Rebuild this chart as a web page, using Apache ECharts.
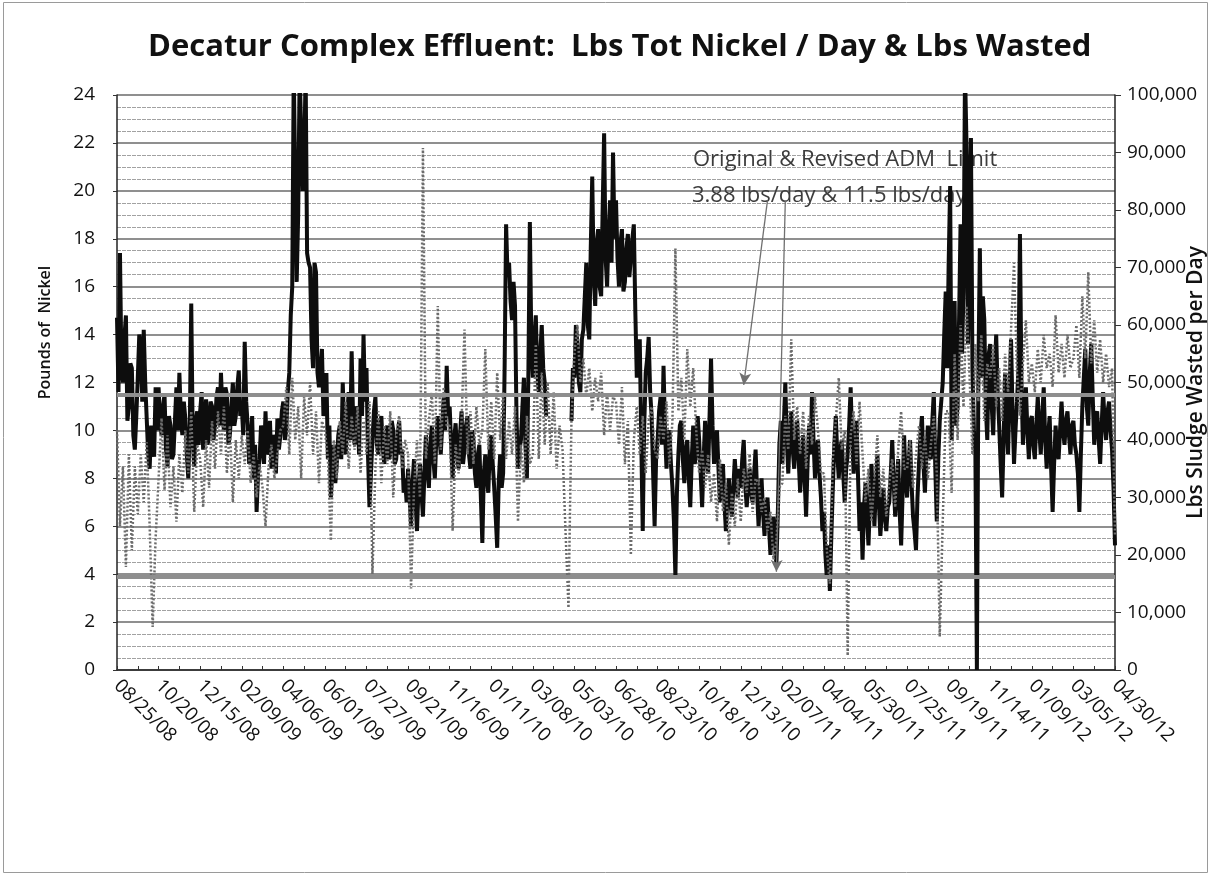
<!DOCTYPE html>
<html>
<head>
<meta charset="utf-8">
<script src="https://cdn.jsdelivr.net/npm/echarts@6/dist/echarts.min.js"></script>
<style>
  html, body { margin: 0; padding: 0; background: #ffffff; }
  #chart { width: 1212px; height: 876px; }
</style>
</head>
<body>
<div id="chart"></div>
<script>
// Nickel is read every 2 days, sludge wasted every 4 days, from 08/25/08
const START_UTC = Date.UTC(2008, 7, 25);
const STEP_DAYS = 2;
const WASTED_STRIDE = 2;  // wasted readings sit on every 2nd category
const LABEL_EVERY = 28;   // 56 days between date labels
const TICK_EVERY = 14;    // 28 days between tick marks

const tickLabels = [
  '08/25/08', '10/20/08', '12/15/08', '02/09/09', '04/06/09', '06/01/09', '07/27/09',
  '09/21/09', '11/16/09', '01/11/10', '03/08/10', '05/03/10', '06/28/10', '08/23/10',
  '10/18/10', '12/13/10', '02/07/11', '04/04/11', '05/30/11', '07/25/11', '09/19/11',
  '11/14/11', '01/09/12', '03/05/12', '04/30/12'
];

// Lbs total nickel per day (left axis), one row per 56-day block
const nickelLbs = [
  14.7, 11.6, 17.4, 12.6, 12.0, 13.9, 14.8, 10.4, 11.0, 12.8, 12.6, 9.8, 9.2, 10.6, 12.2, 14.0, 13.5, 11.2, 14.2, 12.0, 10.5, 9.0, 8.4, 10.2, 9.6, 8.9, 11.8, 10.0,
  11.8, 10.4, 9.8, 11.0, 11.5, 9.2, 8.5, 10.6, 10.2, 8.8, 9.0, 10.4, 11.8, 10.0, 12.4, 10.6, 9.8, 11.2, 10.5, 9.0, 8.0, 10.2, 15.3, 9.6, 8.5, 10.4, 10.8, 9.4,
  10.8, 11.6, 9.2, 10.4, 11.3, 9.4, 9.8, 11.2, 11.0, 9.6, 10.2, 11.4, 11.8, 10.2, 12.4, 10.8, 10.0, 11.8, 11.5, 9.4, 9.8, 11.0, 12.0, 10.2, 10.6, 11.8, 12.5, 10.6,
  11.0, 9.8, 13.7, 11.2, 10.2, 8.6, 9.4, 10.6, 8.0, 9.4, 6.6, 8.2, 8.8, 10.2, 9.8, 8.6, 10.8, 9.0, 9.2, 10.4, 8.4, 9.8, 9.6, 8.2, 10.5, 9.2, 9.8, 10.8,
  11.2, 9.6, 10.0, 11.6, 12.4, 14.8, 16.0, 25.0, 25.0, 16.2, 19.0, 25.0, 25.0, 20.0, 21.0, 25.0, 17.4, 17.0, 16.8, 13.8, 12.6, 17.0, 16.6, 12.4, 11.8, 12.6, 13.4, 10.6,
  10.6, 12.4, 8.8, 10.2, 7.2, 8.4, 9.4, 7.8, 8.6, 9.8, 10.2, 8.8, 12.0, 10.0, 9.0, 10.6, 11.6, 9.6, 13.3, 10.4, 9.4, 11.0, 10.8, 9.0, 13.0, 10.6, 14.0, 11.2,
  12.6, 9.0, 6.8, 8.2, 9.6, 10.8, 11.4, 9.4, 9.0, 10.2, 10.6, 9.2, 8.6, 9.8, 10.2, 8.8, 9.0, 10.4, 10.0, 8.6, 8.8, 9.8, 10.4, 9.0, 9.2, 7.4, 8.0, 7.0,
  8.4, 7.2, 6.0, 7.8, 8.8, 7.0, 5.8, 7.6, 8.6, 7.4, 6.4, 8.2, 9.8, 8.4, 7.6, 9.4, 10.2, 8.8, 8.0, 9.6, 10.6, 9.8, 9.0, 10.2, 11.4, 10.0, 12.7, 10.6,
  11.0, 9.4, 8.0, 9.6, 10.3, 9.0, 8.4, 9.8, 10.8, 8.6, 9.2, 10.2, 10.6, 9.0, 8.4, 10.0, 9.6, 8.2, 7.6, 9.0, 9.4, 7.2, 5.3, 8.2, 9.0, 8.0, 7.4, 9.2,
  9.8, 8.6, 7.6, 6.4, 5.1, 7.8, 9.0, 7.6, 8.2, 12.6, 18.6, 16.4, 17.0, 15.4, 14.6, 16.2, 15.2, 10.6, 8.4, 9.2, 9.6, 11.0, 12.2, 9.4, 8.0, 12.4, 18.7, 13.6,
  12.2, 13.8, 14.8, 12.4, 11.6, 13.2, 14.4, 12.6, 12.0, 10.6, null, null, null, null, null, null, null, null, null, null, null, null, null, null, null, null, 10.4, 12.6,
  12.2, 14.4, 13.6, 12.0, 11.6, 13.8, 14.2, 15.6, 17.0, 14.4, 13.8, 17.6, 20.6, 16.4, 15.2, 17.8, 18.4, 16.0, 15.6, 19.2, 22.4, 17.2, 16.0, 18.2, 19.6, 17.0, 21.6, 18.0,
  19.6, 17.2, 16.0, 17.8, 18.4, 15.8, 16.2, 17.6, 18.2, 16.4, 17.2, 18.0, 18.6, 15.0, 12.2, 13.2, 13.8, 9.6, 5.8, 10.2, 12.4, 13.0, 13.9, 11.6, 10.6, 8.2, 6.0, 8.8,
  9.6, 10.8, 11.4, 9.4, 12.7, 10.0, 8.4, 9.6, 10.0, 8.6, 7.6, 6.2, 3.9, 7.4, 9.0, 10.2, 10.4, 8.8, 7.8, 9.2, 9.6, 8.0, 6.8, 8.8, 10.2, 8.6, 9.0, 10.6,
  9.6, 8.2, 6.8, 8.8, 10.4, 9.0, 8.2, 10.6, 13.0, 10.2, 8.6, 9.4, 10.0, 8.4, 7.0, 8.2, 8.6, 7.0, 5.8, 7.2, 8.0, 7.0, 6.4, 7.6, 8.8, 7.8, 7.2, 8.4,
  7.6, 8.8, 9.6, 7.8, 6.8, 7.6, 8.4, 7.4, 7.0, 8.2, 9.2, 7.4, 6.0, 7.2, 8.0, 6.6, 5.6, 6.8, 7.2, 6.0, 4.8, 5.8, 6.4, 5.4, 4.4, 6.6, 9.4, 10.4,
  8.6, 10.2, 12.0, 9.6, 8.2, 9.8, 10.8, 9.2, 8.4, 9.6, 10.4, 8.8, 7.4, 8.6, 9.8, 8.0, 6.4, 8.6, 10.2, 9.0, 11.6, 9.6, 8.0, 9.0, 9.6, 8.2, 7.2, 5.8,
  6.6, 4.8, 3.8, 5.2, 3.3, 5.6, 7.6, 9.4, 10.6, 9.0, 8.0, 9.2, 9.6, 8.2, 7.0, 8.4, 9.0, 10.2, 11.8, 9.6, 8.2, 9.4, 10.4, 8.0, 5.8, 7.0, 4.6, 6.8,
  7.8, 6.4, 5.2, 7.0, 8.6, 7.2, 6.0, 7.6, 9.0, 7.0, 5.6, 6.6, 7.6, 6.4, 5.8, 6.8, 7.0, 8.2, 9.6, 7.8, 6.4, 7.6, 8.8, 6.6, 5.2, 7.4, 9.8, 8.0,
  7.2, 8.6, 9.6, 7.8, 6.4, 5.8, 5.0, 7.2, 8.6, 9.8, 10.6, 8.6, 7.4, 9.0, 10.2, 9.0, 8.8, 10.4, 11.6, 8.4, 6.2, 8.8, 10.4, 11.2, 12.0, 14.0, 15.8, 12.6,
  17.0, 20.2, 9.6, 12.4, 15.4, 10.2, 11.0, 14.6, 18.6, 13.2, 15.8, 25.0, 22.0, 13.6, 18.8, 22.2, 12.6, 10.0, 9.0, 0, 12.4, 17.6, 12.2, 15.6, 14.6, 11.0, 9.6, 13.2,
  13.6, 11.0, 9.8, 12.4, 14.0, 11.6, 10.2, 8.6, 7.2, 9.6, 12.4, 10.4, 9.0, 11.6, 13.8, 10.8, 8.6, 10.0, 11.2, 12.6, 18.2, 12.0, 9.4, 10.6, 11.8, 10.0, 8.8, 10.4,
  10.6, 9.4, 8.8, 10.2, 11.4, 10.0, 9.0, 10.6, 11.8, 9.6, 8.4, 9.8, 10.6, 8.4, 6.6, 8.6, 10.2, 9.2, 8.8, 10.0, 11.2, 10.0, 9.4, 10.4, 10.8, 9.8, 9.0, 10.2,
  10.4, 9.4, 9.0, 8.2, 6.6, 9.0, 11.0, 12.2, 13.4, 11.0, 10.2, 12.4, 13.6, 11.4, 9.4, 10.6, 10.8, 9.6, 8.6, 10.2, 11.6, 10.4, 9.6, 10.8, 11.2, 10.0, 9.2, 7.6,
  5.2
];

// Sludge wasted per day, thousands of lbs (right axis), one row per 56-day block
const wastedKlbs = [
  41.7, 25.0, 35.4, 17.9, 37.5, 20.8, 35.4, 27.1, 37.5, 29.2, 39.6, 25.0, 7.5, 22.9,
  33.3, 43.8, 31.3, 40.8, 28.3, 35.4, 25.8, 37.5, 30.8, 41.7, 34.2, 45.0, 27.5, 39.2,
  36.7, 28.3, 40.0, 31.7, 43.3, 35.0, 45.0, 37.5, 45.8, 34.2, 42.5, 29.2, 40.0, 33.3,
  40.8, 35.8, 41.7, 32.5, 37.5, 30.0, 35.8, 31.7, 25.0, 35.0, 39.2, 33.3, 37.5, 41.7,
  42.5, 49.2, 37.5, 50.8, 40.0, 45.8, 33.3, 47.5, 40.8, 50.0, 37.5, 45.0, 32.5, 43.3,
  41.7, 36.7, 22.5, 40.0, 33.3, 43.3, 37.5, 46.7, 35.0, 44.2, 38.3, 45.8, 34.2, 43.3,
  37.5, 46.7, 16.7, 35.0, 45.0, 32.5, 42.5, 35.8, 45.0, 30.0, 40.8, 44.2, 35.0, 40.0,
  37.5, 14.2, 31.7, 40.0, 30.0, 90.8, 36.7, 43.3, 48.3, 35.8, 63.3, 38.3, 49.2, 42.5,
  42.5, 24.2, 39.2, 34.2, 43.3, 59.2, 37.5, 45.0, 35.8, 45.8, 39.2, 41.7, 55.8, 38.3,
  46.7, 36.7, 51.7, 40.0, 48.3, 36.7, 43.3, 37.5, 45.8, 25.8, 39.2, 32.5, 44.2, 35.8,
  37.5, 56.7, 36.7, 51.7, 39.2, 50.0, 37.5, 48.3, 35.0, 42.5, 38.3, 24.2, 10.8, 43.3,
  55.0, 60.0, 50.0, 54.2, 47.5, 52.5, 45.0, 50.8, 46.7, 51.7, 40.8, 48.3, 41.7, 47.5,
  46.7, 39.2, 49.2, 35.8, 43.3, 20.0, 40.0, 45.8, 37.5, 44.2, 34.2, 43.3, 45.8, 38.3,
  36.7, 44.2, 40.0, 46.7, 35.8, 43.3, 73.3, 45.0, 50.8, 40.0, 55.8, 45.8, 52.5, 41.7,
  34.2, 38.3, 31.7, 37.5, 29.2, 34.2, 25.8, 36.7, 27.5, 32.5, 21.7, 30.8, 25.0, 33.3,
  25.8, 35.0, 30.8, 37.5, 27.5, 33.3, 32.5, 27.5, 30.0, 24.2, 27.5, 19.2, 22.5, 31.7,
  32.5, 44.2, 38.3, 57.5, 40.0, 45.8, 37.5, 45.0, 35.0, 44.2, 39.2, 47.5, 41.7, 34.2,
  34.2, 20.8, 15.0, 36.7, 43.3, 50.8, 38.3, 41.7, 2.5, 40.8, 45.0, 35.8, 46.7, 37.5,
  29.2, 35.0, 25.8, 33.3, 40.8, 30.0, 35.0, 26.7, 32.5, 36.7, 28.3, 38.3, 45.0, 35.0,
  35.0, 40.0, 31.7, 37.5, 42.5, 35.0, 40.8, 33.3, 39.2, 44.2, 34.2, 5.8, 25.8, 45.0,
  45.0, 30.8, 55.0, 40.0, 60.0, 45.8, 63.3, 51.7, 37.5, 56.7, 46.7, 58.3, 43.3, 53.3,
  50.8, 56.7, 45.8, 52.5, 43.3, 55.0, 48.3, 59.2, 70.8, 51.7, 44.2, 53.3, 60.8, 50.0,
  53.3, 48.3, 55.8, 50.0, 58.3, 52.5, 55.0, 49.2, 61.7, 51.7, 56.7, 50.8, 58.3, 52.5,
  54.2, 60.0, 50.8, 65.0, 54.2, 69.2, 53.3, 60.8, 51.7, 57.5, 50.0, 55.0, 49.2, 52.5,
  23.3
];

// ADM limits, lbs/day
const limitLines = [3.88, 11.5];

// Callout arrows: [fromIndex, fromLbs, toIndex, toLbs]
const calloutArrows = [
  [438, 19.6, 422, 11.9],
  [450, 19.6, 444, 4.1]
];

const pad2 = n => (n < 10 ? '0' : '') + n;
const categories = nickelLbs.map((_, i) => {
  const d = new Date(START_UTC + i * STEP_DAYS * 86400000);
  return pad2(d.getUTCMonth() + 1) + '/' + pad2(d.getUTCDate()) + '/' + pad2(d.getUTCFullYear() % 100);
});
const wastedPoints = wastedKlbs.map((v, i) => [i * WASTED_STRIDE, v]);

const FONT = '"Open Sans", "DejaVu Sans", sans-serif';
const chart = echarts.init(document.getElementById('chart'), null, { renderer: 'canvas' });

chart.setOption({
  backgroundColor: '#ffffff',
  animation: false,
  title: {
    text: 'Decatur Complex Effluent:  Lbs Tot Nickel / Day & Lbs Wasted',
    left: 143,
    top: 27,
    textStyle: { fontFamily: FONT, fontSize: 31, fontWeight: 'bold', color: '#111' }
  },
  grid: { left: 117, right: 97, top: 95, bottom: 206, containLabel: false, outerBoundsMode: 'none' },
  xAxis: {
    type: 'category',
    data: categories,
    boundaryGap: false,
    axisLine: { show: true, lineStyle: { color: '#222', width: 1.5 } },
    axisTick: { show: true, interval: TICK_EVERY - 1, inside: true, length: 4, lineStyle: { color: '#333' } },
    axisLabel: {
      interval: LABEL_EVERY - 1,
      rotate: -45,
      margin: 13,
      fontFamily: FONT,
      fontSize: 19,
      color: '#111',
      formatter: (v, i) => tickLabels[Math.round(i / LABEL_EVERY)] || v
    },
    splitLine: { show: false }
  },
  yAxis: [
    {
      type: 'value',
      min: 0, max: 24, interval: 2,
      name: 'Pounds of  Nickel',
      nameLocation: 'middle',
      nameGap: 64,
      nameRotate: 90,
      nameTextStyle: { fontFamily: FONT, fontSize: 16, fontWeight: 600, color: '#111', padding: [0, 0, 0, 100] },
      axisLine: { show: true, lineStyle: { color: '#222', width: 1.5 } },
      axisTick: { show: true, length: 4, lineStyle: { color: '#333' } },
      axisLabel: { fontFamily: FONT, fontSize: 19, color: '#111', margin: 22 },
      splitLine: { show: true, lineStyle: { color: '#6a6a6a', width: 1.5 } },
      minorTick: { show: false, splitNumber: 4 },
      minorSplitLine: { show: true, lineStyle: { color: '#a2a2a2', width: 1, type: [4, 1] } }
    },
    {
      type: 'value',
      min: 0, max: 100, interval: 10,
      position: 'right',
      name: 'Lbs Sludge Wasted per Day',
      nameLocation: 'middle',
      nameGap: 71,
      nameMoveOverlap: false,
      nameRotate: 90,
      nameTextStyle: { fontFamily: FONT, fontSize: 21, fontWeight: 600, color: '#111' },
      axisLine: { show: true, lineStyle: { color: '#222', width: 1.5 } },
      axisTick: { show: true, length: 6, lineStyle: { color: '#333' } },
      axisLabel: {
        fontFamily: FONT, fontSize: 19, color: '#111', margin: 12,
        formatter: v => (v === 0 ? '0' : v + ',000')
      },
      splitLine: { show: false }
    }
  ],
  graphic: [
    {
      type: 'rect', z: 0, silent: true,
      shape: { x: 3.5, y: 2.5, width: 1204, height: 870 },
      style: { fill: 'none', stroke: '#9a9a9a', lineWidth: 1 }
    },
    {
      type: 'text', z: 1, left: 693, top: 149, silent: true,
      style: { text: 'Original & Revised ADM  Limit', font: '22px "Open Sans", sans-serif', fill: '#3c3c3c' }
    },
    {
      type: 'text', z: 1, left: 692, top: 185, silent: true,
      style: { text: '3.88 lbs/day & 11.5 lbs/day', font: '22px "Open Sans", sans-serif', fill: '#3c3c3c' }
    }
  ],
  series: [
    {
      name: 'Lbs Tot Nickel / Day',
      type: 'line',
      data: nickelLbs,
      yAxisIndex: 0,
      showSymbol: false,
      connectNulls: false,
      clip: true,
      z: 3,
      lineStyle: { color: '#0d0d0d', width: 4, join: 'bevel', cap: 'butt' }
    },
    {
      name: 'Lbs Wasted',
      type: 'line',
      data: wastedPoints,
      yAxisIndex: 1,
      showSymbol: false,
      clip: true,
      z: 4,
      lineStyle: { color: '#6c6c6c', width: 2.5, type: [2, 2], join: 'bevel' }
    },
    {
      name: 'ADM Limits',
      type: 'line',
      data: [],
      yAxisIndex: 0,
      silent: true,
      z: 5,
      markLine: {
        silent: true,
        animation: false,
        symbol: ['none', 'none'],
        label: { show: false },
        data: [
          ...limitLines.map(v => ({
            yAxis: v,
            lineStyle: { color: '#8e8e8e', width: 4, type: 'solid' }
          })),
          ...calloutArrows.map(a => [
            { coord: [a[0], a[1]], symbol: 'none', lineStyle: { color: '#707070', width: 1.3, type: 'solid' } },
            { coord: [a[2], a[3]], symbol: 'arrow', symbolSize: [9, 12] }
          ])
        ]
      }
    }
  ]
});
</script>
</body>
</html>
